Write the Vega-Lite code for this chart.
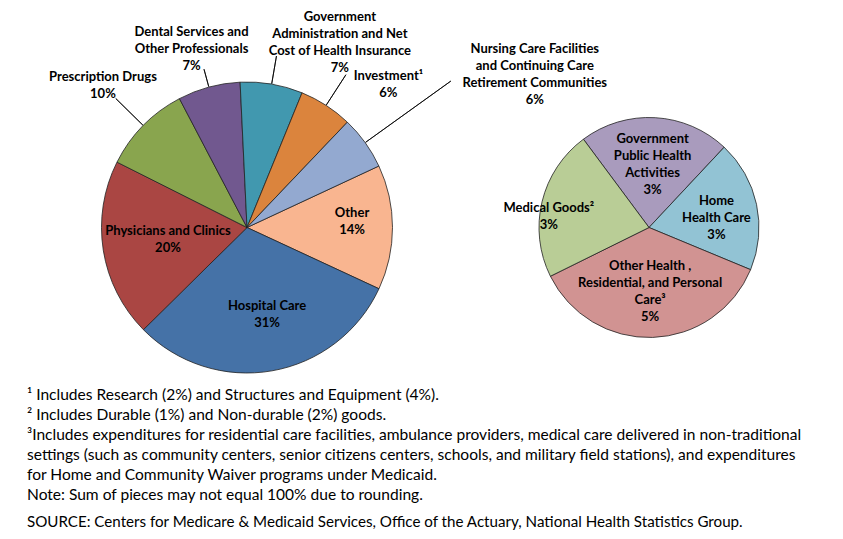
{
  "$schema": "https://vega.github.io/schema/vega-lite/v6.json",
  "width": 843,
  "height": 291,
  "autosize": {"type": "none"},
  "padding": {"left": 0, "top": 82, "right": 0, "bottom": 166},
  "background": "white",
  "config": {"view": {"stroke": null}, "font": "Lato"},
  "datasets": {
    "main": [
      {"pie": "main", "cat": "Other", "ord": 1, "value": 14, "label": "Other\n14%"},
      {"pie": "main", "cat": "Hospital Care", "ord": 2, "value": 31, "label": "Hospital Care\n31%"},
      {"pie": "main", "cat": "Physicians and Clinics", "ord": 3, "value": 20, "label": "Physicians and Clinics\n20%"},
      {"pie": "main", "cat": "Prescription Drugs", "ord": 4, "value": 10, "label": "Prescription Drugs\n10%"},
      {"pie": "main", "cat": "Dental Services and Other Professionals", "ord": 5, "value": 7, "label": "Dental Services and\nOther Professionals\n7%"},
      {"pie": "main", "cat": "Government Administration and Net Cost of Health Insurance", "ord": 6, "value": 7, "label": "Government\nAdministration and Net\nCost of Health Insurance\n7%"},
      {"pie": "main", "cat": "Investment", "ord": 7, "value": 6, "label": "Investment¹\n6%"},
      {"pie": "main", "cat": "Nursing Care Facilities and Continuing Care Retirement Communities", "ord": 8, "value": 6, "label": "Nursing Care Facilities\nand Continuing Care\nRetirement Communities\n6%"}
    ],
    "detail": [
      {"pie": "detail", "cat": "Government Public Health Activities", "ord": 1, "value": 3.1, "label": "Government\nPublic Health\nActivities\n3%"},
      {"pie": "detail", "cat": "Home Health Care", "ord": 2, "value": 2.7, "label": "Home\nHealth Care\n3%"},
      {"pie": "detail", "cat": "Other Health, Residential, and Personal Care", "ord": 3, "value": 5.1, "label": "Other Health ,\nResidential, and Personal\nCare³\n5%"},
      {"pie": "detail", "cat": "Medical Goods", "ord": 4, "value": 3.1, "label": "Medical Goods²\n3%"}
    ]
  },
  "title": {
    "text": [
      "¹ Includes Research (2%) and Structures and Equipment (4%).",
      "² Includes Durable (1%) and Non-durable (2%) goods.",
      "³Includes expenditures for residential care facilities, ambulance providers, medical care delivered in non-traditional",
      "settings (such as community centers, senior citizens centers, schools, and military field stations), and expenditures",
      "for Home and Community Waiver programs under Medicaid.",
      "Note: Sum of pieces may not equal 100% due to rounding."
    ],
    "subtitle": "SOURCE: Centers for Medicare & Medicaid Services, Office of the Actuary, National Health Statistics Group.",
    "orient": "bottom",
    "anchor": "start",
    "frame": "group",
    "dx": 27,
    "offset": -79,
    "font": "Lato",
    "fontSize": 15.55,
    "fontWeight": "normal",
    "color": "#000000",
    "lineHeight": 20,
    "subtitleFont": "Lato",
    "subtitleFontSize": 15.15,
    "subtitleColor": "#000000",
    "subtitleLineHeight": 20,
    "subtitlePadding": 11
  },
  "layer": [
    {
      "data": {"name": "main"},
      "encoding": {
        "x": {"field": "pie", "type": "nominal", "scale": {"type": "point", "domain": ["main", "detail"], "range": [247, 649], "padding": 0}, "axis": null},
        "theta": {"field": "value", "type": "quantitative", "stack": true, "scale": {"domain": [0, 101], "range": [1.1345, 7.4177]}},
        "order": {"field": "ord", "type": "quantitative"}
      },
      "layer": [
        {
          "mark": {"type": "arc", "outerRadius": 145.5, "stroke": "#222222", "strokeWidth": 0.8},
          "encoding": {
            "color": {
              "field": "cat", "type": "nominal", "legend": null,
              "scale": {
                "domain": ["Other", "Hospital Care", "Physicians and Clinics", "Prescription Drugs", "Dental Services and Other Professionals", "Government Administration and Net Cost of Health Insurance", "Investment", "Nursing Care Facilities and Continuing Care Retirement Communities", "Government Public Health Activities", "Home Health Care", "Other Health, Residential, and Personal Care", "Medical Goods"],
                "range": ["#F9B590", "#4572A7", "#AA4643", "#89A54E", "#71588F", "#4198AF", "#DB843D", "#93A9D0", "#A99BBD", "#92C3D4", "#D19392", "#B9CD96"]
              }
            }
          }
        },
        {
          "transform": [{"stack": "value", "groupby": ["pie"], "sort": [{"field": "ord", "order": "ascending"}], "as": ["v0", "v1"]}, {"filter": "datum.cat === 'Prescription Drugs'"}],
          "mark": {"type": "arc", "innerRadius": 146, "outerRadius": 184, "padAngle": 3, "fill": "transparent", "stroke": "#000000", "strokeWidth": 0.8},
          "encoding": {"theta": {"field": "v0", "type": "quantitative", "stack": null, "scale": {"domain": [0, 101], "range": [1.1345, 7.4177]}}, "theta2": {"field": "v1"}}
        },
        {
          "transform": [{"stack": "value", "groupby": ["pie"], "sort": [{"field": "ord", "order": "ascending"}], "as": ["v0", "v1"]}, {"filter": "datum.cat === 'Dental Services and Other Professionals'"}],
          "mark": {"type": "arc", "innerRadius": 146, "outerRadius": 164, "padAngle": 3, "fill": "transparent", "stroke": "#000000", "strokeWidth": 0.8},
          "encoding": {"theta": {"field": "v0", "type": "quantitative", "stack": null, "scale": {"domain": [0, 101], "range": [1.1345, 7.4177]}}, "theta2": {"field": "v1"}}
        },
        {
          "transform": [{"stack": "value", "groupby": ["pie"], "sort": [{"field": "ord", "order": "ascending"}], "as": ["v0", "v1"]}, {"filter": "datum.cat === 'Government Administration and Net Cost of Health Insurance'"}],
          "mark": {"type": "arc", "innerRadius": 146, "outerRadius": 174, "padAngle": 3, "fill": "transparent", "stroke": "#000000", "strokeWidth": 0.8},
          "encoding": {"theta": {"field": "v0", "type": "quantitative", "stack": null, "scale": {"domain": [0, 101], "range": [1.1345, 7.4177]}}, "theta2": {"field": "v1"}}
        },
        {
          "transform": [{"stack": "value", "groupby": ["pie"], "sort": [{"field": "ord", "order": "ascending"}], "as": ["v0", "v1"]}, {"filter": "datum.cat === 'Investment'"}],
          "mark": {"type": "arc", "innerRadius": 146, "outerRadius": 182, "padAngle": 3, "fill": "transparent", "stroke": "#000000", "strokeWidth": 0.8},
          "encoding": {"theta": {"field": "v0", "type": "quantitative", "stack": null, "scale": {"domain": [0, 101], "range": [1.1345, 7.4177]}}, "theta2": {"field": "v1"}}
        },
        {
          "transform": [{"stack": "value", "groupby": ["pie"], "sort": [{"field": "ord", "order": "ascending"}], "as": ["v0", "v1"]}, {"filter": "datum.cat === 'Nursing Care Facilities and Continuing Care Retirement Communities'"}],
          "mark": {"type": "arc", "innerRadius": 146, "outerRadius": 251, "padAngle": 3, "fill": "transparent", "stroke": "#000000", "strokeWidth": 0.8},
          "encoding": {"theta": {"field": "v0", "type": "quantitative", "stack": null, "scale": {"domain": [0, 101], "range": [1.1345, 7.4177]}}, "theta2": {"field": "v1"}}
        },
        {
          "mark": {"type": "text", "radius": 100, "dx": 5, "dy": -14.5, "font": "Lato", "fontSize": 13, "fontWeight": "bold", "lineBreak": "\n", "lineHeight": 17, "align": "center", "baseline": "middle", "color": "#000000"},
          "encoding": {"text": {"condition": {"test": "datum.cat === 'Other'", "field": "label", "type": "nominal"}, "value": ""}}
        },
        {
          "mark": {"type": "text", "radius": 88, "dx": 5, "dy": -8.5, "font": "Lato", "fontSize": 13, "fontWeight": "bold", "lineBreak": "\n", "lineHeight": 17, "align": "center", "baseline": "middle", "color": "#000000"},
          "encoding": {"text": {"condition": {"test": "datum.cat === 'Hospital Care'", "field": "label", "type": "nominal"}, "value": ""}}
        },
        {
          "mark": {"type": "text", "radius": 80, "dy": -8.5, "font": "Lato", "fontSize": 13, "fontWeight": "bold", "lineBreak": "\n", "lineHeight": 17, "align": "center", "baseline": "middle", "color": "#000000"},
          "encoding": {"text": {"condition": {"test": "datum.cat === 'Physicians and Clinics'", "field": "label", "type": "nominal"}, "value": ""}}
        },
        {
          "mark": {"type": "text", "radius": 202, "dy": -8.5, "font": "Lato", "fontSize": 13, "fontWeight": "bold", "lineBreak": "\n", "lineHeight": 17, "align": "center", "baseline": "middle", "color": "#000000"},
          "encoding": {"text": {"condition": {"test": "datum.cat === 'Prescription Drugs'", "field": "label", "type": "nominal"}, "value": ""}}
        },
        {
          "mark": {"type": "text", "radius": 185, "dx": -7, "dy": -17, "font": "Lato", "fontSize": 13, "fontWeight": "bold", "lineBreak": "\n", "lineHeight": 17, "align": "center", "baseline": "middle", "color": "#000000"},
          "encoding": {"text": {"condition": {"test": "datum.cat === 'Dental Services and Other Professionals'", "field": "label", "type": "nominal"}, "value": ""}}
        },
        {
          "mark": {"type": "text", "radius": 188, "dx": 61, "dy": -25.5, "font": "Lato", "fontSize": 13, "fontWeight": "bold", "lineBreak": "\n", "lineHeight": 17, "align": "center", "baseline": "middle", "color": "#000000"},
          "encoding": {"text": {"condition": {"test": "datum.cat === 'Government Administration and Net Cost of Health Insurance'", "field": "label", "type": "nominal"}, "value": ""}}
        },
        {
          "mark": {"type": "text", "radius": 170, "dx": 49, "dy": -8.5, "font": "Lato", "fontSize": 13, "fontWeight": "bold", "lineBreak": "\n", "lineHeight": 17, "align": "center", "baseline": "middle", "color": "#000000"},
          "encoding": {"text": {"condition": {"test": "datum.cat === 'Investment'", "field": "label", "type": "nominal"}, "value": ""}}
        },
        {
          "mark": {"type": "text", "radius": 262, "dx": 75, "dy": -25.5, "font": "Lato", "fontSize": 13, "fontWeight": "bold", "lineBreak": "\n", "lineHeight": 17, "align": "center", "baseline": "middle", "color": "#000000"},
          "encoding": {"text": {"condition": {"test": "datum.cat === 'Nursing Care Facilities and Continuing Care Retirement Communities'", "field": "label", "type": "nominal"}, "value": ""}}
        }
      ]
    },
    {
      "data": {"name": "detail"},
      "encoding": {
        "x": {"field": "pie", "type": "nominal", "scale": {"type": "point", "domain": ["main", "detail"], "range": [247, 649], "padding": 0}, "axis": null},
        "theta": {"field": "value", "type": "quantitative", "stack": true, "scale": {"domain": [0, 14], "range": [-0.6388, 5.6444]}},
        "order": {"field": "ord", "type": "quantitative"}
      },
      "layer": [
        {
          "mark": {"type": "arc", "outerRadius": 110, "stroke": "#222222", "strokeWidth": 0.8},
          "encoding": {
            "color": {
              "field": "cat", "type": "nominal", "legend": null,
              "scale": {
                "domain": ["Other", "Hospital Care", "Physicians and Clinics", "Prescription Drugs", "Dental Services and Other Professionals", "Government Administration and Net Cost of Health Insurance", "Investment", "Nursing Care Facilities and Continuing Care Retirement Communities", "Government Public Health Activities", "Home Health Care", "Other Health, Residential, and Personal Care", "Medical Goods"],
                "range": ["#F9B590", "#4572A7", "#AA4643", "#89A54E", "#71588F", "#4198AF", "#DB843D", "#93A9D0", "#A99BBD", "#92C3D4", "#D19392", "#B9CD96"]
              }
            }
          }
        },
        {
          "mark": {"type": "text", "radius": 63, "dy": -25.5, "font": "Lato", "fontSize": 13, "fontWeight": "bold", "lineBreak": "\n", "lineHeight": 17, "align": "center", "baseline": "middle", "color": "#000000"},
          "encoding": {"text": {"condition": {"test": "datum.cat === 'Government Public Health Activities'", "field": "label", "type": "nominal"}, "value": ""}}
        },
        {
          "mark": {"type": "text", "radius": 69, "dy": -12, "font": "Lato", "fontSize": 13, "fontWeight": "bold", "lineBreak": "\n", "lineHeight": 17, "align": "center", "baseline": "middle", "color": "#000000"},
          "encoding": {"text": {"condition": {"test": "datum.cat === 'Home Health Care'", "field": "label", "type": "nominal"}, "value": ""}}
        },
        {
          "mark": {"type": "text", "radius": 64, "dx": -1, "dy": -25.5, "font": "Lato", "fontSize": 13, "fontWeight": "bold", "lineBreak": "\n", "lineHeight": 17, "align": "center", "baseline": "middle", "color": "#000000"},
          "encoding": {"text": {"condition": {"test": "datum.cat === 'Other Health, Residential, and Personal Care'", "field": "label", "type": "nominal"}, "value": ""}}
        },
        {
          "mark": {"type": "text", "radius": 101, "dx": -2, "dy": 4.5, "font": "Lato", "fontSize": 13, "fontWeight": "bold", "lineBreak": "\n", "lineHeight": 17, "align": "center", "baseline": "middle", "color": "#000000"},
          "encoding": {"text": {"condition": {"test": "datum.cat === 'Medical Goods'", "field": "label", "type": "nominal"}, "value": ""}}
        }
      ]
    }
  ],
  "resolve": {"scale": {"theta": "independent"}}
}
